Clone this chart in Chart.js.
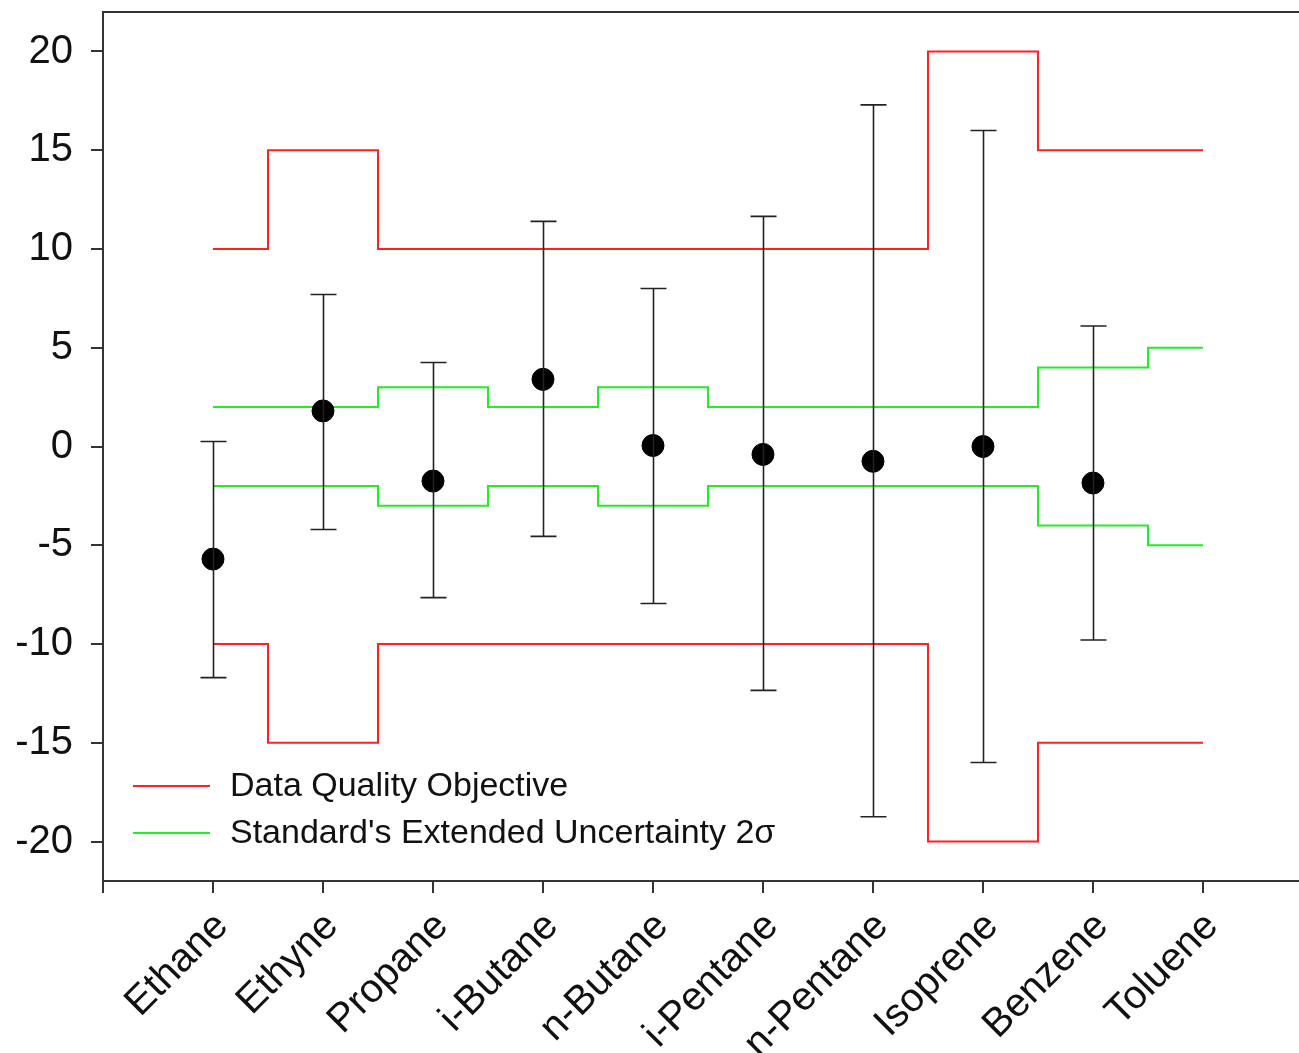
<!DOCTYPE html>
<html>
<head>
<meta charset="utf-8">
<script src="https://cdn.jsdelivr.net/npm/chart.js@4.4.1/dist/chart.umd.min.js"></script>
<style>
  html, body { margin: 0; padding: 0; background: #fff; overflow: hidden; }
  #wrap { width: 1299px; height: 1053px; overflow: hidden; }
</style>
</head>
<body>
<div id="wrap"><canvas id="c" width="1311" height="1053"></canvas></div>
<script>
// Compounds along the x axis
const compounds = ['Ethane', 'Ethyne', 'Propane', 'i-Butane', 'n-Butane',
                   'i-Pentane', 'n-Pentane', 'Isoprene', 'Benzene', 'Toluene'];

// Mean percent difference per compound (Toluene has no measurement)
const meanDiff = [-5.7, 1.8, -1.75, 3.4, 0.05, -0.4, -0.75, 0.0, -1.85, null];
// Error bar ends
const errHigh = [0.25, 7.7, 4.25, 11.4, 8.0, 11.65, 17.3, 16.0, 6.1, null];
const errLow  = [-11.7, -4.2, -7.65, -4.55, -7.95, -12.35, -18.75, -16.0, -9.8, null];

// Data Quality Objective limits
const dqoUpper = [10, 15, 10, 10, 10, 10, 10, 20, 15, 15];
const dqoLower = [-10, -15, -10, -10, -10, -10, -10, -20, -15, -15];

// Standard's extended uncertainty (2 sigma)
const stdUpper = [2, 2, 3, 2, 3, 2, 2, 2, 4, 5];
const stdLower = [-2, -2, -3, -2, -3, -2, -2, -2, -4, -5];

// Y axis tick values
const yTicks = [-20, -15, -10, -5, 0, 5, 10, 15, 20];

const legendItems = [
  { label: 'Data Quality Objective', color: '#ff2020' },
  { label: "Standard's Extended Uncertainty 2\u03c3", color: '#22ee22' }
];

const xy = arr => arr.map((v, i) => ({ x: i, y: v }));
const FONT = '"Liberation Sans", Arial, sans-serif';
const AXIS = '#333333';

// Error bars with caps
const errorBars = {
  id: 'errorBars',
  afterDatasetsDraw(chart) {
    const { ctx, scales: { x, y } } = chart;
    ctx.save();
    ctx.strokeStyle = '#222';
    ctx.lineWidth = 1.6;
    for (let i = 0; i < errHigh.length; i++) {
      if (errHigh[i] == null) continue;
      const px = Math.round(x.getPixelForValue(i)) + 0.5;
      const top = y.getPixelForValue(errHigh[i]);
      const bot = y.getPixelForValue(errLow[i]);
      ctx.beginPath();
      ctx.moveTo(px, top); ctx.lineTo(px, bot);
      ctx.moveTo(px - 13, top); ctx.lineTo(px + 13, top);
      ctx.moveTo(px - 13, bot); ctx.lineTo(px + 13, bot);
      ctx.stroke();
    }
    ctx.restore();
  }
};

// Top frame line and in-plot legend
const frameAndLegend = {
  id: 'frameAndLegend',
  afterDraw(chart) {
    const { ctx, chartArea } = chart;
    ctx.save();
    ctx.strokeStyle = AXIS;
    ctx.lineWidth = 2;
    ctx.beginPath();
    ctx.moveTo(chartArea.left, chartArea.top);
    ctx.lineTo(chart.width, chartArea.top);
    ctx.stroke();

    ctx.font = '34px ' + FONT;
    ctx.textBaseline = 'middle';
    ctx.fillStyle = '#111';
    legendItems.forEach((it, k) => {
      const yy = 786 + k * 47;
      ctx.strokeStyle = it.color;
      ctx.lineWidth = 2;
      ctx.beginPath();
      ctx.moveTo(133, yy); ctx.lineTo(210, yy);
      ctx.stroke();
      ctx.fillText(it.label, 230, yy + 1);
    });
    ctx.restore();
  }
};

const stepLine = (data, color) => ({
  type: 'line',
  data: xy(data),
  borderColor: color,
  borderWidth: 2,
  pointRadius: 0,
  fill: false,
  stepped: 'middle',
  order: 2
});

new Chart(document.getElementById('c'), {
  data: {
    datasets: [
      stepLine(dqoUpper, '#ff2020'),
      stepLine(dqoLower, '#ff2020'),
      stepLine(stdUpper, '#22ee22'),
      stepLine(stdLower, '#22ee22'),
      {
        type: 'scatter',
        data: xy(meanDiff).filter(p => p.y != null),
        backgroundColor: '#000',
        borderColor: '#000',
        pointRadius: 11,
        order: 1
      }
    ]
  },
  options: {
    responsive: false,
    animation: false,
    layout: { padding: { top: 11, left: 0, right: 0, bottom: 0 } },
    plugins: { legend: { display: false }, tooltip: { enabled: false } },
    scales: {
      x: {
        type: 'linear',
        min: -1,
        max: 9.873,
        afterBuildTicks(scale) {
          scale.ticks = [-1, ...compounds.map((_, i) => i)].map(v => ({ value: v }));
        },
        afterFit(scale) {
          scale.height = 172;
          scale.paddingLeft = 0; scale.paddingRight = 0;
          scale.paddingTop = 0; scale.paddingBottom = 0;
        },
        grid: { drawOnChartArea: false, drawTicks: true, tickLength: 12, color: AXIS, lineWidth: 2 },
        border: { display: true, color: AXIS, width: 2 },
        ticks: {
          autoSkip: false,
          minRotation: 45,
          maxRotation: 45,
          padding: 10,
          labelOffset: 9,
          color: '#111',
          font: { family: FONT, size: 40 },
          callback: v => (Number.isInteger(v) && v >= 0 ? compounds[v] : '')
        }
      },
      y: {
        min: -22,
        max: 22,
        afterBuildTicks(scale) { scale.ticks = yTicks.map(v => ({ value: v })); },
        afterFit(scale) {
          scale.width = 103;
          scale.paddingLeft = 0; scale.paddingRight = 0;
          scale.paddingTop = 0; scale.paddingBottom = 0;
        },
        grid: { drawOnChartArea: false, drawTicks: true, tickLength: 12, color: AXIS, lineWidth: 2 },
        border: { display: true, color: AXIS, width: 2 },
        ticks: {
          padding: 18,
          color: '#111',
          font: { family: FONT, size: 40 }
        }
      }
    }
  },
  plugins: [errorBars, frameAndLegend]
});
</script>
</body>
</html>
